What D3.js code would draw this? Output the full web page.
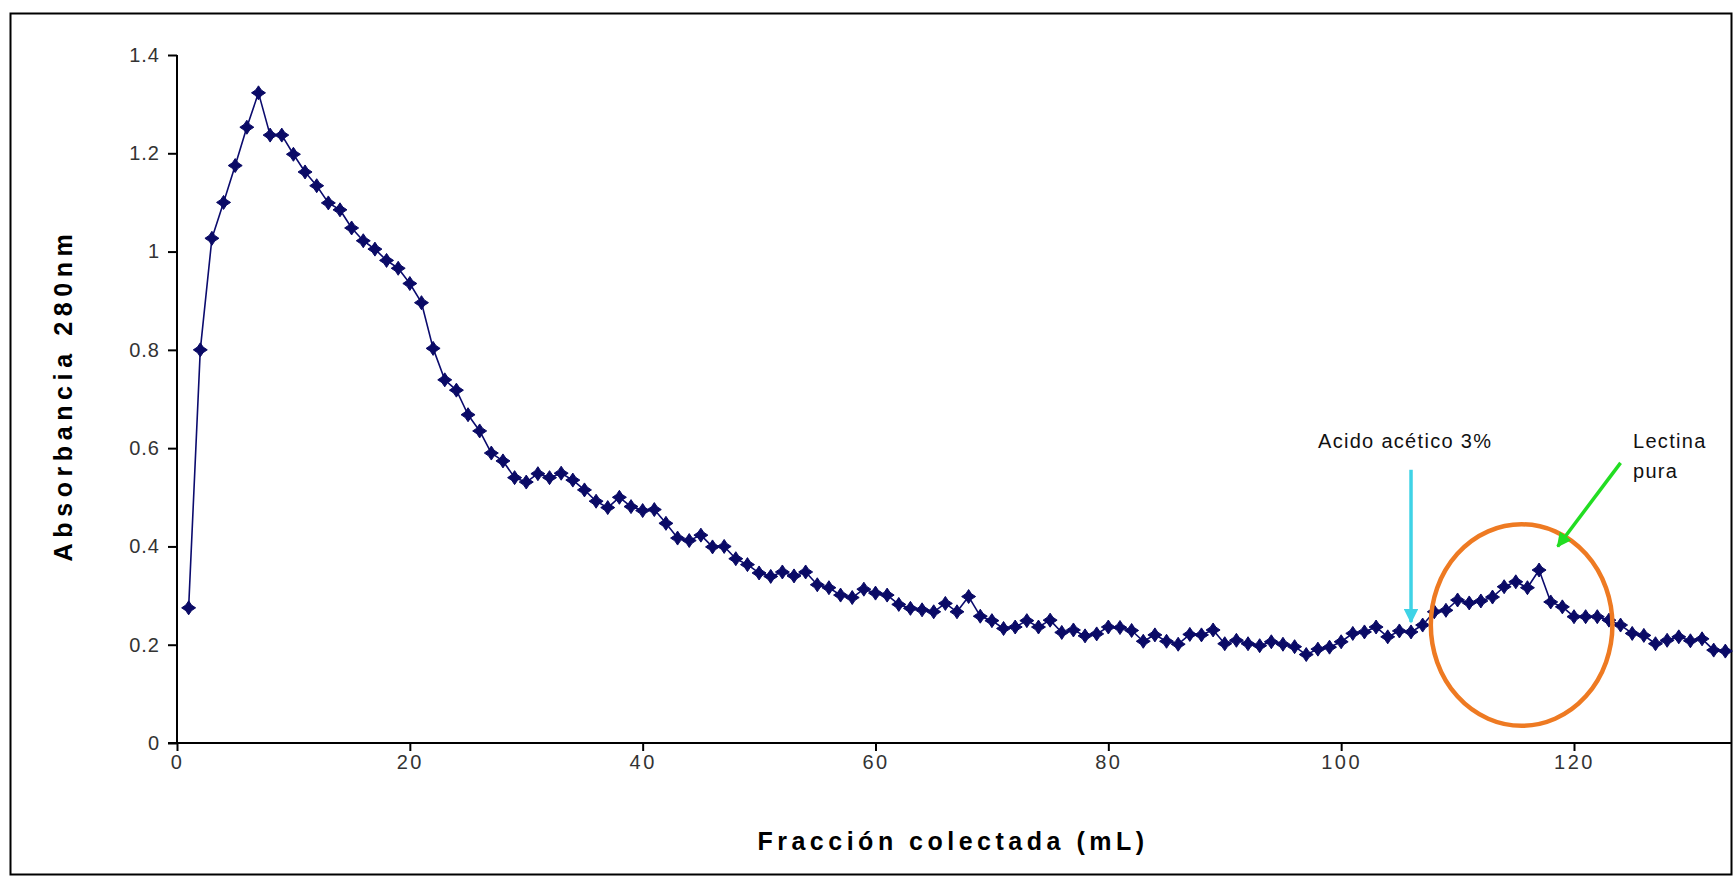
<!DOCTYPE html>
<html>
<head>
<meta charset="utf-8">
<script src="https://cdn.jsdelivr.net/npm/d3@7"></script>
<style>
  html, body { margin: 0; padding: 0; background: #ffffff; }
  svg { display: block; }
  text { font-family: "Liberation Sans", Arial, sans-serif; }
</style>
</head>
<body>
<svg id="chart" width="1733" height="879"></svg>
<script>
// Collected fraction (mL)
const fractions = d3.range(1, 134);

// Absorbance at 280 nm for each collected fraction
const absorbance = [
  0.275, 0.800, 1.027, 1.100, 1.175, 1.253, 1.323, 1.237, 1.237, 1.198,
  1.162, 1.134, 1.099, 1.085, 1.048, 1.022, 1.005, 0.982, 0.966, 0.935,
  0.896, 0.803, 0.739, 0.718, 0.668, 0.635, 0.590, 0.574, 0.540, 0.531,
  0.548, 0.540, 0.549, 0.535, 0.515, 0.492, 0.479, 0.500, 0.481, 0.473,
  0.475, 0.447, 0.417, 0.412, 0.423, 0.399, 0.400, 0.375, 0.363, 0.346,
  0.339, 0.348, 0.340, 0.348, 0.322, 0.316, 0.301, 0.296, 0.313, 0.305,
  0.301, 0.282, 0.274, 0.271, 0.267, 0.284, 0.267, 0.298, 0.258, 0.249,
  0.233, 0.236, 0.249, 0.236, 0.250, 0.225, 0.230, 0.218, 0.222, 0.236,
  0.235, 0.229, 0.207, 0.220, 0.207, 0.201, 0.221, 0.220, 0.230, 0.202,
  0.209, 0.202, 0.198, 0.206, 0.201, 0.196, 0.180, 0.191, 0.195, 0.206,
  0.223, 0.226, 0.236, 0.216, 0.228, 0.226, 0.240, 0.267, 0.270, 0.291,
  0.285, 0.289, 0.297, 0.318, 0.328, 0.316, 0.352, 0.287, 0.277, 0.257,
  0.257, 0.257, 0.250, 0.240, 0.223, 0.219, 0.202, 0.209, 0.216, 0.208,
  0.212, 0.189, 0.187
];

const xTicks = [0, 20, 40, 60, 80, 100, 120];
const yTicks = [0, 0.2, 0.4, 0.6, 0.8, 1.0, 1.2, 1.4];

const xTitle = "Fracción colectada (mL)";
const yTitle = "Absorbancia 280nm";
const acidLabel = "Acido acético 3%";
const lectinLabel = ["Lectina", "pura"];

// Annotation anchors in data units
const acidFraction = 106.0;      // where the elution buffer was applied
const acidArrowTop = 0.556;
const acidArrowTip = 0.246;
const lectinCentre = [115.5, 0.24];
const lectinRadius = [7.8, 0.205];
const lectinArrowFrom = [124, 0.57];
const lectinArrowTo = [118.6, 0.40];

const data = fractions.map((f, i) => ({ x: f, y: absorbance[i] }));

const svg = d3.select("#chart");
const W = 1733, H = 879;
const plot = { left: 177, right: 1731, top: 55, bottom: 743 };

// Outer chart frame
svg.append("rect")
  .attr("x", 10.5).attr("y", 13.5)
  .attr("width", W - 12).attr("height", H - 18)
  .attr("fill", "#ffffff").attr("stroke", "#000").attr("stroke-width", 2);

const x = d3.scaleLinear()
  .domain([0, 120 * (plot.right - plot.left) / (1574 - plot.left)])
  .range([plot.left, plot.right]);
const y = d3.scaleLinear().domain([0, 1.4]).range([plot.bottom, plot.top]);

// Y axis
const yAxis = svg.append("g")
  .attr("transform", `translate(${plot.left},0)`)
  .call(d3.axisLeft(y).tickValues(yTicks).tickSize(9).tickPadding(8)
    .tickFormat(d => d3.format("~g")(d)));
yAxis.select(".domain").attr("stroke", "#000").attr("stroke-width", 2)
  .attr("d", `M0,${plot.bottom}V${plot.top}`);
yAxis.selectAll(".tick line").attr("stroke", "#000").attr("stroke-width", 2);
yAxis.selectAll(".tick text")
  .attr("font-size", 20).attr("fill", "#333")
  .attr("letter-spacing", 1)
  .style("font-family", "'Liberation Sans', Arial, sans-serif");

// X axis
const xAxis = svg.append("g")
  .attr("transform", `translate(0,${plot.bottom})`)
  .call(d3.axisBottom(x).tickValues(xTicks).tickSize(8).tickPadding(4)
    .tickFormat(d3.format("d")));
xAxis.select(".domain").attr("stroke", "#000").attr("stroke-width", 2)
  .attr("d", `M${plot.left - 9},0H${plot.right}`);
xAxis.selectAll(".tick line").attr("stroke", "#000").attr("stroke-width", 2);
xAxis.selectAll(".tick text")
  .attr("font-size", 20).attr("fill", "#333")
  .attr("letter-spacing", 2.5)
  .style("font-family", "'Liberation Sans', Arial, sans-serif");

// Axis titles
svg.append("text")
  .attr("x", 953).attr("y", 850)
  .attr("text-anchor", "middle")
  .attr("font-size", 25).attr("font-weight", "bold")
  .attr("letter-spacing", 4.5).attr("fill", "#000")
  .text(xTitle);

svg.append("text")
  .attr("transform", `translate(72,${(plot.top + plot.bottom) / 2 - 4}) rotate(-90)`)
  .attr("text-anchor", "middle")
  .attr("font-size", 25).attr("font-weight", "bold")
  .attr("letter-spacing", 5.6).attr("fill", "#000")
  .text(yTitle);

// Absorbance trace
const line = d3.line().x(d => x(d.x)).y(d => y(d.y));
svg.append("path")
  .datum(data)
  .attr("d", line)
  .attr("fill", "none")
  .attr("stroke", "#0b0b6e")
  .attr("stroke-width", 1.6)
  .attr("stroke-linejoin", "round");

// Four-point star markers at every fraction
const marker = "M0,-7L2.8,-2.8L7,0L2.8,2.8L0,7L-2.8,2.8L-7,0L-2.8,-2.8Z";
svg.append("g").selectAll("path")
  .data(data)
  .join("path")
  .attr("d", marker)
  .attr("transform", d => `translate(${x(d.x)},${y(d.y)})`)
  .attr("fill", "#0a0a66")
  .attr("stroke", "#0a0a66")
  .attr("stroke-width", 1);

// Lectin peak highlight
svg.append("ellipse")
  .attr("cx", x(lectinCentre[0])).attr("cy", y(lectinCentre[1]))
  .attr("rx", x(lectinCentre[0] + lectinRadius[0]) - x(lectinCentre[0]))
  .attr("ry", y(0) - y(lectinRadius[1]))
  .attr("fill", "none").attr("stroke", "#ee7a22").attr("stroke-width", 4.5);

// Arrowheads
const defs = svg.append("defs");
function arrowHead(id, color) {
  defs.append("marker")
    .attr("id", id)
    .attr("viewBox", "0 0 10 10")
    .attr("refX", 9).attr("refY", 5)
    .attr("markerWidth", 4.2).attr("markerHeight", 4.2)
    .attr("markerUnits", "strokeWidth")
    .attr("orient", "auto")
    .append("path").attr("d", "M0,0L10,5L0,10Z").attr("fill", color);
}
arrowHead("head-cyan", "#3fd3e6");
arrowHead("head-green", "#22dd22");

// Elution start arrow
svg.append("line")
  .attr("x1", x(acidFraction)).attr("y1", y(acidArrowTop))
  .attr("x2", x(acidFraction)).attr("y2", y(acidArrowTip))
  .attr("stroke", "#3fd3e6").attr("stroke-width", 3.5)
  .attr("marker-end", "url(#head-cyan)");

svg.append("text")
  .attr("x", 1318).attr("y", 448)
  .attr("font-size", 20).attr("letter-spacing", 1.3).attr("fill", "#111")
  .text(acidLabel);

// Pure lectin arrow and label
svg.append("line")
  .attr("x1", x(lectinArrowFrom[0])).attr("y1", y(lectinArrowFrom[1]))
  .attr("x2", x(lectinArrowTo[0])).attr("y2", y(lectinArrowTo[1]))
  .attr("stroke", "#22dd22").attr("stroke-width", 3.5)
  .attr("marker-end", "url(#head-green)");

svg.append("text")
  .attr("x", 1633).attr("y", 448)
  .attr("font-size", 20).attr("letter-spacing", 1.3).attr("fill", "#111")
  .selectAll("tspan")
  .data(lectinLabel)
  .join("tspan")
  .attr("x", 1633)
  .attr("dy", (d, i) => i === 0 ? 0 : 30)
  .text(d => d);
</script>
</body>
</html>
